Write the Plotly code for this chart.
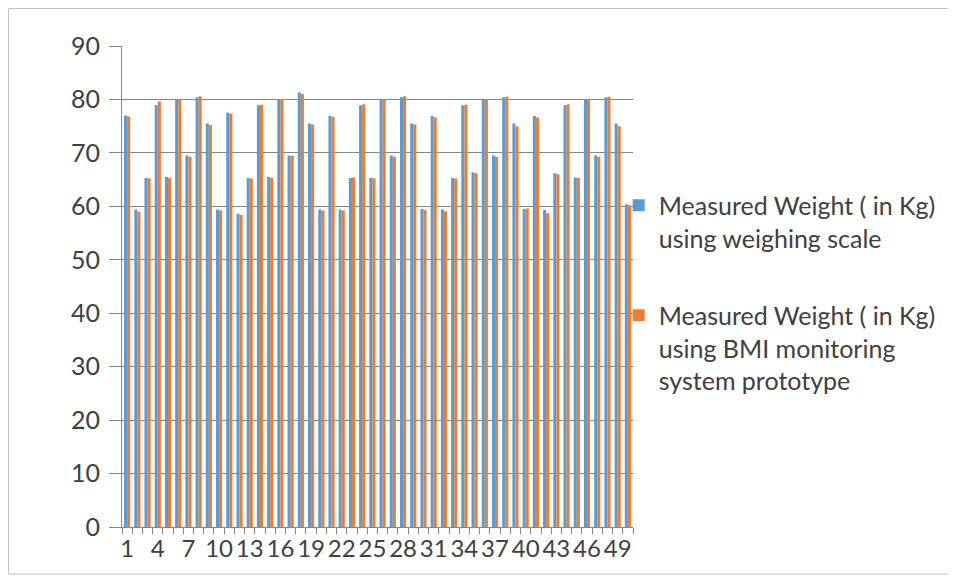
import plotly.graph_objects as go

categories = list(range(1, 51))
tick_labels = [str(i) for i in range(1, 51, 3)]
tick_positions = list(range(1, 51, 3))

weighing_scale = [77.0, 59.4, 65.3, 78.9, 65.5, 79.9, 69.5, 80.4, 75.5, 59.4,
                  77.5, 58.6, 65.3, 78.9, 65.5, 80.0, 69.5, 81.3, 75.5, 59.4,
                  76.9, 59.4, 65.3, 78.9, 65.3, 79.9, 69.5, 80.4, 75.5, 59.5,
                  76.9, 59.4, 65.3, 78.9, 66.4, 79.9, 69.5, 80.4, 75.5, 59.5,
                  76.9, 59.3, 66.2, 78.9, 65.4, 79.9, 69.5, 80.4, 75.5, 60.4]
bmi_prototype = [76.8, 59.0, 65.2, 79.6, 65.3, 80.1, 69.3, 80.6, 75.2, 59.2,
                 77.3, 58.4, 65.2, 79.0, 65.3, 80.1, 69.4, 81.0, 75.3, 59.2,
                 76.7, 59.2, 65.4, 79.1, 65.2, 80.0, 69.3, 80.6, 75.3, 59.3,
                 76.6, 59.1, 65.2, 79.0, 66.2, 80.0, 69.3, 80.5, 75.0, 59.6,
                 76.6, 58.7, 66.0, 79.1, 65.3, 80.1, 69.3, 80.5, 75.0, 60.2]

name_blue = "Measured Weight ( in Kg)<br>using weighing scale"
name_orange = "Measured Weight ( in Kg)<br>using BMI monitoring<br>system prototype"

FONT = "Lato, Carlito, 'Open Sans', sans-serif"
GRID = "#868686"
TEXT = "#404040"

fig = go.Figure()
fig.add_trace(go.Bar(x=categories, y=weighing_scale, name=name_blue,
                     marker=dict(color="#5B9BD5", line=dict(width=0)),
                     legendgroup="a"))
fig.add_trace(go.Bar(x=categories, y=bmi_prototype, name=name_orange,
                     marker=dict(color="#ED7D31", line=dict(width=0)),
                     legendgroup="b"))

# page body has an 8px margin, so the figure is offset by 8px
fig.update_layout(
    width=948, height=570,
    margin=dict(l=114, r=323, t=38, b=51, autoexpand=False),
    paper_bgcolor="white", plot_bgcolor="white",
    barmode="group", bargap=0.4, bargroupgap=0,
    font=dict(family=FONT, size=24, color=TEXT),
    legend=dict(x=0.972, xanchor="left", y=0.716, yanchor="top",
                valign="top", tracegroupgap=42, itemwidth=30,
                font=dict(family=FONT, size=25, color=TEXT),
                bgcolor="rgba(0,0,0,0)"),
    xaxis=dict(range=[0.5, 50.5], tickmode="array", tickvals=tick_positions,
               ticktext=tick_labels, ticks="", showgrid=False, tickangle=0,
               automargin=False,
               showline=True, linecolor=GRID, linewidth=1,
               minor=dict(ticks="outside", tick0=0.5, dtick=1, ticklen=6,
                          tickcolor=GRID, showgrid=False),
               tickfont=dict(size=24, color=TEXT), zeroline=False),
    yaxis=dict(range=[0, 90], dtick=10, showgrid=True, gridcolor=GRID,
               gridwidth=1, ticks="outside", ticklen=12, tickcolor=GRID,
               automargin=False, ticklabelstandoff=4,
               showline=True, linecolor=GRID, linewidth=1,
               zeroline=False, tickfont=dict(size=25, color=TEXT)),
    shapes=[dict(type="rect", xref="paper", yref="paper",
                 x0=-0.222, x1=1.624, y0=-0.098, y1=1.078,
                 line=dict(color="#bfbfbf", width=1), layer="below")],
)

fig.write_html("out.html")
